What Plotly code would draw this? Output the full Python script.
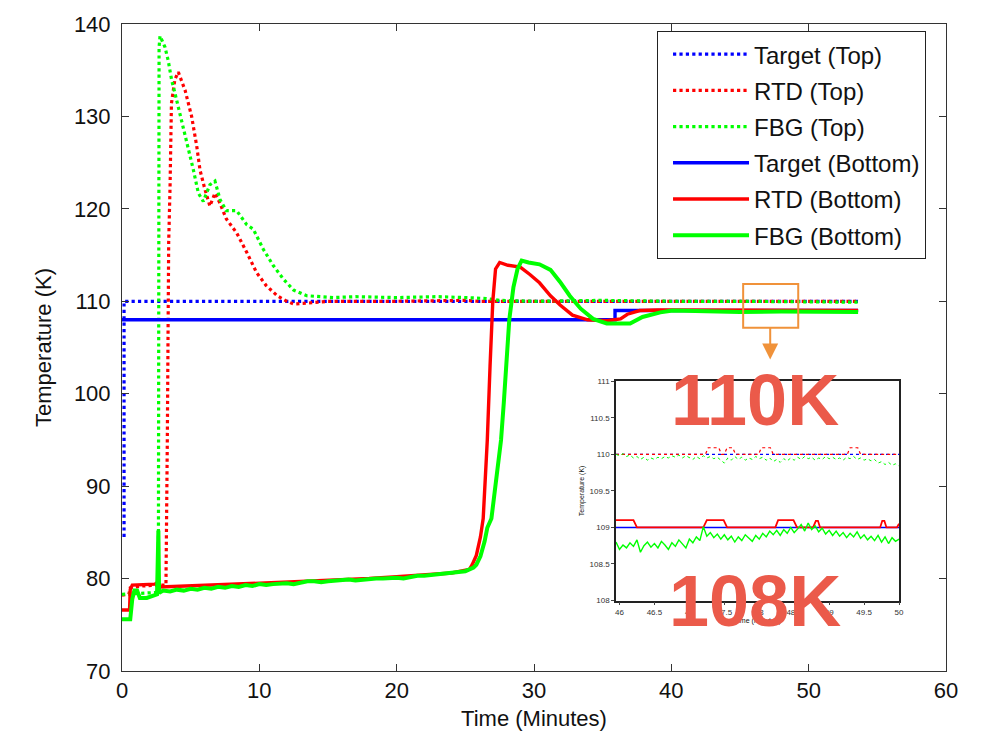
import plotly.graph_objects as go

# ---------------- main run: temperature vs time ----------------
# Target setpoints
tgt_top_t = [0.15, 0.15, 53.6]
tgt_top_T = [84.5, 110.0, 110.0]
tgt_bot_t = [0.0, 35.9, 35.9, 53.6]
tgt_bot_T = [108.0, 108.0, 109.0, 109.0]

# RTD, top sensor
rtd_top_t = [0.0, 0.5, 0.6, 1.5, 2.5, 3.2, 3.3, 3.4, 3.5, 3.6, 3.85, 4.1, 4.6, 5.07,
             5.44, 5.68, 6.04, 6.4, 6.77, 7.1, 7.6, 8.35, 9.08, 9.8, 10.5, 11.3, 12.0,
             12.5, 13.5, 14.2, 15.0, 20.0, 25.0, 26.0, 30.0, 40.0, 53.6]
rtd_top_T = [78.2, 78.3, 79.0, 79.2, 79.3, 79.3, 95.0, 116.4, 122.5, 131.4, 134.0, 134.8,
             132.8, 130.0, 126.8, 124.2, 122.1, 120.3, 121.7, 120.7, 118.9, 117.4, 115.3,
             113.1, 111.7, 110.6, 110.0, 109.7, 109.8, 109.9, 110.0, 110.0, 110.1, 110.0,
             110.0, 110.0, 110.0]

# FBG, top sensor
fbg_top_t = [0.0, 2.6, 2.65, 2.7, 2.77, 3.13, 3.37, 3.62, 3.86, 4.1, 4.47, 4.83, 5.2,
             5.56, 5.92, 6.4, 6.77, 7.14, 7.6, 8.35, 9.08, 9.56, 10.3, 11.0, 11.75, 12.5,
             13.45, 15.4, 17.0, 20.0, 23.0, 25.0, 26.5, 27.5, 30.0, 35.0, 40.0, 45.0,
             50.0, 53.6]
fbg_top_T = [78.3, 78.5, 80.0, 137.5, 138.7, 137.5, 136.0, 133.9, 132.5, 131.0, 128.9,
             126.4, 124.2, 121.7, 120.8, 122.6, 123.0, 121.0, 119.8, 119.8, 118.3, 117.8,
             115.6, 113.9, 112.4, 111.2, 110.6, 110.4, 110.5, 110.4, 110.5, 110.4, 110.3,
             110.1, 110.0, 110.1, 110.0, 110.0, 109.95, 109.9]

# RTD, bottom sensor
rtd_bot_t = [0.0, 0.55, 0.6, 0.75, 2.4, 2.6, 2.8, 5.0, 8.0, 10.0, 13.0, 15.0, 18.0, 20.0,
             22.0, 24.0, 25.3, 25.5, 25.8, 26.1, 26.3, 26.6, 26.8, 27.0, 27.2, 27.5, 28.1,
             29.0, 29.7, 30.4, 31.2, 31.9, 32.8, 33.9, 35.3, 36.3, 36.8, 37.7, 39.0, 45.0,
             53.6]
rtd_bot_T = [76.6, 76.6, 78.8, 79.3, 79.4, 79.6, 79.1, 79.2, 79.4, 79.5, 79.7, 79.8, 80.0,
             80.2, 80.4, 80.6, 81.0, 81.5, 82.5, 84.5, 86.5, 95.0, 103.0, 110.0, 113.5,
             114.2, 113.9, 113.7, 112.9, 112.0, 110.6, 109.6, 108.5, 108.0, 107.9, 108.1,
             108.6, 109.0, 109.05, 109.0, 109.0]

# FBG, bottom sensor
fbg_bot_t = [0.0, 0.6, 0.75, 0.9, 1.1, 1.3, 1.8, 2.3, 2.55, 2.65, 2.7, 2.75, 3.0, 3.5,
             4.0, 4.5, 5.0, 5.5, 6.0, 6.5, 7.0, 7.5, 8.0, 8.5, 9.0, 9.5, 10.0, 10.5, 11.0,
             11.5, 12.0, 12.5, 13.0, 13.5, 14.0, 14.5, 15.0, 15.5, 16.0, 16.5, 17.0, 17.5,
             18.0, 18.5, 19.0, 19.5, 20.0, 20.5, 21.0, 21.5, 22.0, 22.5, 23.0, 23.5, 24.0,
             24.5, 25.0, 25.3, 25.6, 25.8, 26.1, 26.4, 26.6, 26.9, 27.3, 27.6, 27.8, 28.0,
             28.2, 28.5, 28.8, 29.1, 29.6, 30.4, 31.2, 31.9, 32.6, 33.4, 34.3, 35.3, 37.0,
             37.9, 39.2, 40.1, 42.0, 45.0, 48.0, 50.0, 53.6]
fbg_bot_T = [75.6, 75.6, 77.8, 78.7, 78.7, 77.9, 77.9, 78.1, 78.3, 85.2, 78.4, 78.5, 78.7,
             78.6, 78.8, 78.7, 78.9, 78.8, 79.0, 78.9, 79.1, 79.0, 79.2, 79.1, 79.3, 79.2,
             79.4, 79.3, 79.4, 79.5, 79.5, 79.4, 79.6, 79.7, 79.7, 79.6, 79.7, 79.8, 79.8,
             79.9, 79.8, 79.9, 79.9, 80.0, 80.0, 80.1, 80.1, 80.0, 80.2, 80.3, 80.3, 80.4,
             80.4, 80.5, 80.6, 80.7, 80.8, 81.0, 81.2, 81.5, 82.4, 84.0, 85.5, 86.5, 91.0,
             95.0, 99.0, 104.0, 108.0, 111.5, 113.5, 114.4, 114.2, 114.0, 113.4, 112.1,
             110.6, 109.2, 108.1, 107.6, 107.6, 108.3, 108.8, 109.0, 108.9, 108.85, 108.9,
             108.85, 108.85]

# ---------------- close-up window, 46 - 50 min ----------------
zoom_t = [45.95, 46.00, 46.05, 46.10, 46.15, 46.20, 46.25, 46.30, 46.35, 46.40, 46.45,
          46.50, 46.55, 46.60, 46.65, 46.70, 46.75, 46.80, 46.85, 46.90, 46.95, 47.00,
          47.05, 47.10, 47.15, 47.20, 47.25, 47.30, 47.35, 47.40, 47.45, 47.50, 47.55,
          47.60, 47.65, 47.70, 47.75, 47.80, 47.85, 47.90, 47.95, 48.00, 48.05, 48.10,
          48.15, 48.20, 48.25, 48.30, 48.35, 48.40, 48.45, 48.50, 48.55, 48.60, 48.65,
          48.70, 48.75, 48.80, 48.85, 48.90, 48.95, 49.00, 49.05, 49.10, 49.15, 49.20,
          49.25, 49.30, 49.35, 49.40, 49.45, 49.50, 49.55, 49.60, 49.65, 49.70, 49.75,
          49.80, 49.85, 49.90, 49.95, 50.00]
zoom_fbg_top = [110.00, 109.98, 110.01, 109.97, 109.99, 109.95, 109.97, 109.93, 109.96,
                109.92, 109.95, 109.93, 109.96, 109.94, 109.97, 109.95, 109.98, 109.96,
                109.99, 109.95, 109.98, 109.96, 109.93, 109.97, 109.94, 109.98, 109.95,
                109.97, 109.94, 109.96, 109.92, 109.88, 109.95, 109.92, 109.97, 109.93,
                109.96, 109.92, 109.95, 109.93, 109.97, 109.94, 109.96, 109.92, 109.95,
                109.90, 109.93, 109.89, 109.94, 109.91, 109.95, 109.92, 109.96, 109.93,
                109.97, 109.94, 109.96, 109.92, 109.95, 109.93, 109.97, 109.94, 109.96,
                109.93, 109.95, 109.92, 109.96, 109.94, 109.97, 109.93, 109.95, 109.92,
                109.94, 109.91, 109.93, 109.88, 109.90, 109.86, 109.89, 109.85, 109.87,
                109.84]
zoom_fbg_bot = [108.80, 108.70, 108.76, 108.72, 108.79, 108.74, 108.83, 108.66, 108.75,
                108.80, 108.73, 108.78, 108.72, 108.81, 108.76, 108.70, 108.79, 108.74,
                108.83, 108.77, 108.72, 108.84, 108.79, 108.87, 108.82, 109.01, 108.88,
                108.93, 108.86, 108.91, 108.84, 108.90, 108.83, 108.88, 108.80, 108.87,
                108.82, 108.90, 108.85, 108.81, 108.89, 108.84, 108.92, 108.87, 108.95,
                108.90, 108.96, 108.89, 108.97, 108.92, 109.00, 108.93, 108.98, 109.04,
                108.95, 109.06, 108.97, 109.02, 108.94, 108.99, 108.91, 108.96, 108.89,
                108.95, 108.88, 108.93, 108.86, 108.92, 108.87, 108.94, 108.85, 108.90,
                108.83, 108.88, 108.82, 108.89, 108.80, 108.87, 108.78, 108.86, 108.81,
                108.84]
zoom_rtd_top_t = [45.95, 47.23, 47.27, 47.42, 47.46, 47.50, 47.54, 47.62, 47.66, 47.99,
                  48.03, 48.16, 48.20, 49.26, 49.30, 49.41, 49.45, 50.00]
zoom_rtd_top_T = [110.0, 110.0, 110.09, 110.09, 110.0, 110.0, 110.09, 110.09, 110.0,
                  110.0, 110.09, 110.09, 110.0, 110.0, 110.09, 110.09, 110.0, 110.0]
zoom_rtd_bot_t = [45.95, 46.20, 46.25, 47.20, 47.25, 47.49, 47.54, 48.23, 48.27, 48.49,
                  48.54, 48.77, 48.81, 48.84, 48.87, 49.73, 49.76, 49.79, 49.82, 49.97,
                  50.00]
zoom_rtd_bot_T = [109.1, 109.1, 109.0, 109.0, 109.1, 109.1, 109.0, 109.0, 109.1, 109.1,
                  109.0, 109.0, 109.09, 109.09, 109.0, 109.0, 109.09, 109.09, 109.0,
                  109.0, 109.05]
zoom_tgt_t = [45.95, 50.00]
zoom_tgt_top = [110.0, 110.0]
zoom_tgt_bot = [109.0, 109.0]

BLUE, RED, GREEN = "#0000FF", "#FF0000", "#00FF00"
ORANGE = "#F0923A"
CALLOUT = "#EB5A4A"
FONT = "Liberation Sans, Arial, Helvetica, sans-serif"

fig = go.Figure()

series = [
    ("Target (Top)", tgt_top_t, tgt_top_T, BLUE, "dot", 3.2),
    ("RTD (Top)", rtd_top_t, rtd_top_T, RED, "dot", 3.2),
    ("FBG (Top)", fbg_top_t, fbg_top_T, GREEN, "dot", 3.2),
    ("Target (Bottom)", tgt_bot_t, tgt_bot_T, BLUE, "solid", 3.4),
    ("RTD (Bottom)", rtd_bot_t, rtd_bot_T, RED, "solid", 3.4),
    ("FBG (Bottom)", fbg_bot_t, fbg_bot_T, GREEN, "solid", 4.0),
]
for name, t, T, c, dash, w in series:
    fig.add_trace(go.Scatter(
        x=t, y=T, name=name, mode="lines", legendgroup=name,
        line=dict(color=c, width=w, dash=dash),
        xaxis="x", yaxis="y", hoverinfo="skip"))

close_up = [
    (zoom_tgt_t, zoom_tgt_top, BLUE, "dot", 1.2),
    (zoom_rtd_top_t, zoom_rtd_top_T, RED, "dot", 1.2),
    (zoom_t, zoom_fbg_top, GREEN, "dot", 1.0),
    (zoom_tgt_t, zoom_tgt_bot, BLUE, "solid", 1.4),
    (zoom_rtd_bot_t, zoom_rtd_bot_T, RED, "solid", 1.8),
    (zoom_t, zoom_fbg_bot, GREEN, "solid", 1.4),
]
for t, T, c, dash, w in close_up:
    fig.add_trace(go.Scatter(
        x=t, y=T, mode="lines", showlegend=False,
        line=dict(color=c, width=w, dash=dash),
        xaxis="x2", yaxis="y2", hoverinfo="skip"))

axis_main = dict(
    showline=True, linecolor="#333333", linewidth=1, mirror="ticks",
    ticks="inside", ticklen=7, tickcolor="#333333", tickwidth=1,
    showgrid=False, zeroline=False,
    tickfont=dict(family=FONT, size=22, color="#111111"),
)
axis_zoom = dict(
    showline=True, linecolor="#222222", linewidth=1.5, mirror=True,
    ticks="outside", ticklen=3, tickcolor="#444444", tickwidth=1,
    showgrid=False, zeroline=False,
    tickfont=dict(family=FONT, size=8, color="#333333"),
)

fig.update_layout(
    width=985, height=739,
    margin=dict(l=122, r=39, t=20, b=67),
    paper_bgcolor="white", plot_bgcolor="white",
    font=dict(family=FONT, color="#111111"),
    xaxis=dict(axis_main, range=[0, 60], dtick=10, domain=[0, 1],
               title=dict(text="Time (Minutes)", font=dict(size=22), standoff=8)),
    yaxis=dict(axis_main, range=[70, 140], dtick=10, domain=[0, 1],
               ticklabelstandoff=6,
               title=dict(text="Temperature (K)", font=dict(size=22), standoff=16)),
    xaxis2=dict(axis_zoom, range=[45.95, 50], dtick=0.5, tick0=46,
                domain=[0.5995, 0.943], anchor="y2",
                title=dict(text="Time (Minutes)", font=dict(size=7), standoff=2)),
    yaxis2=dict(axis_zoom, range=[108, 111], dtick=0.5, tick0=108,
                domain=[0.1089, 0.4479], anchor="x2",
                title=dict(text="Temperature (K)", font=dict(size=7), standoff=4)),
    legend=dict(
        x=0.6493, y=0.989, xanchor="left", yanchor="top",
        bgcolor="white", bordercolor="#222222", borderwidth=1,
        font=dict(family=FONT, size=24, color="#111111"),
        itemwidth=76, indentation=10, tracegroupgap=2, traceorder="grouped",
    ),
    showlegend=True,
)

# callout box around the 46-50 min window and its arrow
fig.add_shape(type="rect", xref="x", yref="y", x0=45.23, x1=49.24, y0=107.13, y1=111.86,
              line=dict(color=ORANGE, width=2), fillcolor="rgba(0,0,0,0)")
fig.add_annotation(x=47.2, y=103.7, xref="x", yref="y", ax=0, ay=-33, text="",
                   showarrow=True, arrowhead=2, arrowsize=1.6, arrowwidth=2,
                   arrowcolor=ORANGE)

for label, yc in (("110K", 0.4187), ("108K", 0.1089)):
    fig.add_annotation(x=0.768, y=yc, xref="paper", yref="paper", text=label,
                       showarrow=False, xanchor="center", yanchor="middle",
                       font=dict(family=FONT, size=72, color=CALLOUT, weight="bold"))

fig.write_html("out.html")
